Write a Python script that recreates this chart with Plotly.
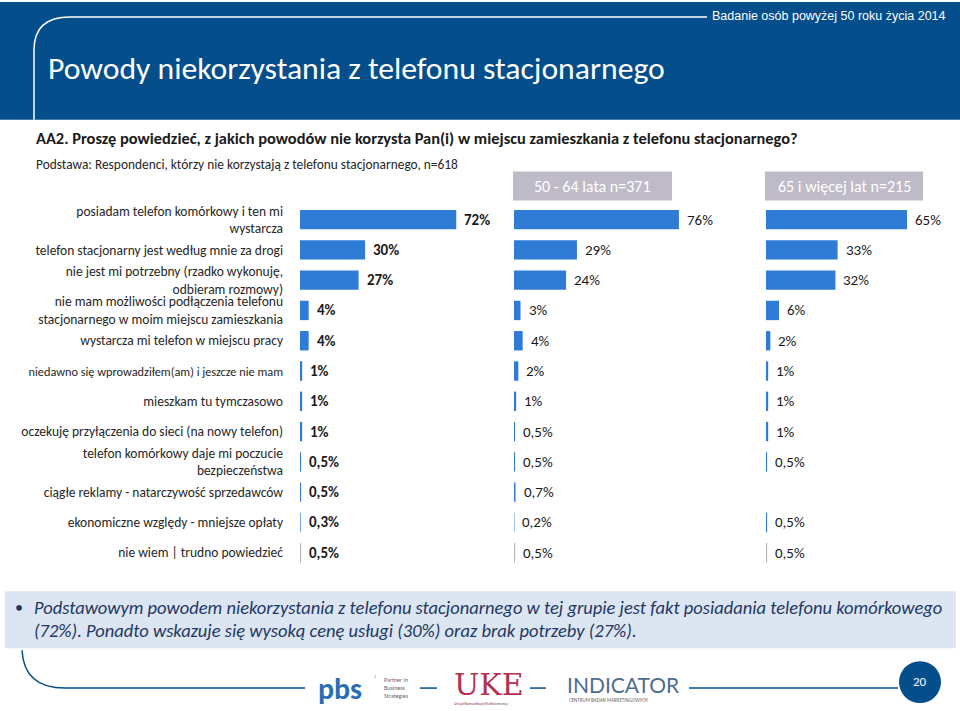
import plotly.graph_objects as go

# ---------------- data ----------------
categories = [
    "posiadam telefon komórkowy i ten mi<br>wystarcza",
    "telefon stacjonarny jest według mnie za drogi",
    "nie jest mi potrzebny (rzadko wykonuję,<br>odbieram rozmowy)",
    "nie mam możliwości podłączenia telefonu<br>stacjonarnego w moim miejscu zamieszkania",
    "wystarcza mi telefon w miejscu pracy",
    "niedawno się wprowadziłem(am) i jeszcze nie mam",
    "mieszkam tu tymczasowo",
    "oczekuję przyłączenia do sieci (na nowy telefon)",
    "telefon komórkowy daje mi poczucie<br>bezpieczeństwa",
    "ciągłe reklamy - natarczywość sprzedawców",
    "ekonomiczne względy - mniejsze opłaty",
    "nie wiem | trudno powiedzieć",
]
total_values = [72, 30, 27, 4, 4, 1, 1, 1, 0.5, 0.5, 0.3, 0.5]
total_labels = ["72%", "30%", "27%", "4%", "4%", "1%", "1%", "1%", "0,5%", "0,5%", "0,3%", "0,5%"]
g5064_values = [76, 29, 24, 3, 4, 2, 1, 0.5, 0.5, 0.7, 0.2, 0.5]
g5064_labels = ["76%", "29%", "24%", "3%", "4%", "2%", "1%", "0,5%", "0,5%", "0,7%", "0,2%", "0,5%"]
g65_values = [65, 33, 32, 6, 2, 1, 1, 1, 0.5, None, 0.5, 0.5]
g65_labels = ["65%", "33%", "32%", "6%", "2%", "1%", "1%", "1%", "0,5%", None, "0,5%", "0,5%"]
group_titles = ["50 - 64 lata n=371", "65 i więcej lat n=215"]

# ---------------- styling ----------------
W, H = 960, 711
FONT = "Carlito, Calibri, Lato, sans-serif"
BLUE = "#2E7CD5"
GRAY = "#B4B4B4"
NAVY = "#034E8B"
BOXGRAY = "#BFBAC7"


def fx(p):
    return p / W


def fy(p):
    return 1 - p / H


PXPERPCT = 2.17
panels = [  # (axis suffix, left px, width px)
    ("", 300, 200),
    ("2", 514, 200),
    ("3", 766, 190),
]
row_top, row_bot = 203.0, 567.5

bar_colors = [BLUE] * (len(categories) - 1) + [GRAY]

fig = go.Figure()
series = [(total_values, total_labels, True), (g5064_values, g5064_labels, False), (g65_values, g65_labels, False)]
annotations = []
for (suf, left, width), (vals, labs, bold) in zip(panels, series):
    fig.add_trace(go.Bar(
        orientation="h", y=categories, x=vals, width=0.64,
        marker=dict(color=bar_colors, line=dict(width=0)),
        xaxis="x" + suf, yaxis="y" + suf, showlegend=False, hoverinfo="skip",
    ))
    for c, v, l in zip(categories, vals, labs):
        if v is None:
            continue
        annotations.append(dict(
            x=v, y=c, xref="x" + suf, yref="y" + suf, xanchor="left", yanchor="middle",
            xshift=6, text=("<b>%s</b>" % l) if bold else l, showarrow=False,
            font=dict(family=FONT, size=15, color="#1a1a1a"),
        ))

ticktext = [c if not c.startswith("niedawno") else '<span style="font-size:12.3px">%s</span>' % c
            for c in categories]

layout_axes = {}
for i, (suf, left, width) in enumerate(panels):
    layout_axes["xaxis" + suf] = dict(
        domain=[fx(left), fx(left + width)], range=[0, width / PXPERPCT],
        visible=False, anchor="y" + suf, fixedrange=True,
    )
    layout_axes["yaxis" + suf] = dict(
        domain=[fy(row_bot), fy(row_top)], anchor="x" + suf,
        categoryorder="array", categoryarray=categories, autorange="reversed",
        showgrid=False, zeroline=False, showline=False,
        showticklabels=(i == 0), ticks="",
        tickvals=categories if i == 0 else None, ticktext=ticktext if i == 0 else None,
        ticklabelstandoff=16, fixedrange=True,
        tickfont=dict(family=FONT, size=13.5, color="#262626"),
    )

shapes = [
    dict(type="rect", xref="paper", yref="paper", x0=0, x1=1, y0=fy(118), y1=1,
         fillcolor=NAVY, line=dict(width=0), layer="below"),
    dict(type="path", xref="paper", yref="paper",
         path=f"M {fx(34)},{fy(118)} L {fx(34)},{fy(48)} Q {fx(34)},{fy(15)} {fx(70)},{fy(15)} L {fx(707)},{fy(15)}",
         line=dict(color="white", width=1.5)),
    dict(type="rect", xref="paper", yref="paper", x0=fx(513), x1=fx(672), y0=fy(199), y1=fy(170),
         fillcolor=BOXGRAY, line=dict(width=0), layer="below"),
    dict(type="rect", xref="paper", yref="paper", x0=fx(765), x1=fx(923), y0=fy(199), y1=fy(170),
         fillcolor=BOXGRAY, line=dict(width=0), layer="below"),
    dict(type="rect", xref="paper", yref="paper", x0=fx(5), x1=fx(956), y0=fy(648), y1=fy(591),
         fillcolor="#DCE6F2", line=dict(width=0), layer="below"),
    dict(type="path", xref="paper", yref="paper",
         path=f"M {fx(22)},{fy(650)} Q {fx(24)},{fy(688)} {fx(65)},{fy(688)} L {fx(305)},{fy(688)}",
         line=dict(color=NAVY, width=1.5)),
    dict(type="line", xref="paper", yref="paper", x0=fx(420), x1=fx(437), y0=fy(688), y1=fy(688),
         line=dict(color=NAVY, width=1.5)),
    dict(type="line", xref="paper", yref="paper", x0=fx(530), x1=fx(546), y0=fy(688), y1=fy(688),
         line=dict(color=NAVY, width=1.5)),
    dict(type="line", xref="paper", yref="paper", x0=fx(689), x1=fx(898), y0=fy(688), y1=fy(688),
         line=dict(color=NAVY, width=1.5)),
    dict(type="circle", xref="paper", yref="paper", x0=fx(899), x1=fx(941), y0=fy(703), y1=fy(661),
         fillcolor=NAVY, line=dict(width=0)),
]


def txt(x, y, text, size, color, xanchor="left", family=FONT, yanchor="middle", align="left"):
    annotations.append(dict(x=fx(x), y=fy(y), xref="paper", yref="paper", text=text, showarrow=False,
                            xanchor=xanchor, yanchor=yanchor, align=align,
                            font=dict(family=family, size=size, color=color)))


txt(948, 14, "Badanie osób powyżej 50 roku życia 2014", 12.5, "white", xanchor="right",
    family="Liberation Sans Narrow, Liberation Sans, Arial")
txt(46, 67, "Powody niekorzystania z telefonu stacjonarnego", 31.7, "white")
txt(34, 136, "<b>AA2. Proszę powiedzieć, z jakich powodów nie korzysta Pan(i) w miejscu zamieszkania z telefonu stacjonarnego?</b>",
    16.4, "#1a1a1a")
txt(34, 163, "Podstawa: Respondenci, którzy nie korzystają z telefonu stacjonarnego, n=618", 13.4, "#262626")
txt(592.5, 185, group_titles[0], 16, "white", xanchor="center")
txt(844, 185, group_titles[1], 16, "white", xanchor="center")
txt(13, 607, "•", 16, "#1F3864")
txt(32, 607, "<i>Podstawowym powodem niekorzystania z telefonu stacjonarnego w tej grupie jest fakt posiadania telefonu komórkowego</i>",
    18.5, "#1F3864")
txt(32, 630, "<i>(72%). Ponadto wskazuje się wysoką cenę usługi (30%) oraz brak potrzeby (27%).</i>", 18.5, "#1F3864")
# footer logos (text approximations)
txt(316, 688, "<b>pbs</b>", 30, "#2A6DB5")
txt(372, 678, "®", 6, "#2A6DB5")
txt(382, 688, "Partner in<br>Business<br>Strategies", 6, "#666666")
txt(452, 684, "UKE", 30, "#B3304E", family="DejaVu Serif")
txt(452, 703, "Urząd Komunikacji Elektronicznej", 4, "#7a3a5a")
txt(565, 684, "INDICATOR", 21, "#4D6D8F", family="Lato")
txt(567, 700, "CENTRUM BADAŃ MARKETINGOWYCH", 5, "#666666")
txt(920, 681, "20", 13, "white", xanchor="center")

fig.update_layout(
    width=W, height=H, margin=dict(l=0, r=0, t=0, b=0),
    paper_bgcolor="white", plot_bgcolor="rgba(0,0,0,0)",
    barmode="overlay", shapes=shapes, annotations=annotations,
    font=dict(family=FONT), showlegend=False, hovermode=False,
    **layout_axes,
)
fig.write_html("out.html", config={"displayModeBar": False, "staticPlot": True},
               post_script="document.body.style.margin='0';document.body.style.overflow='hidden';")
